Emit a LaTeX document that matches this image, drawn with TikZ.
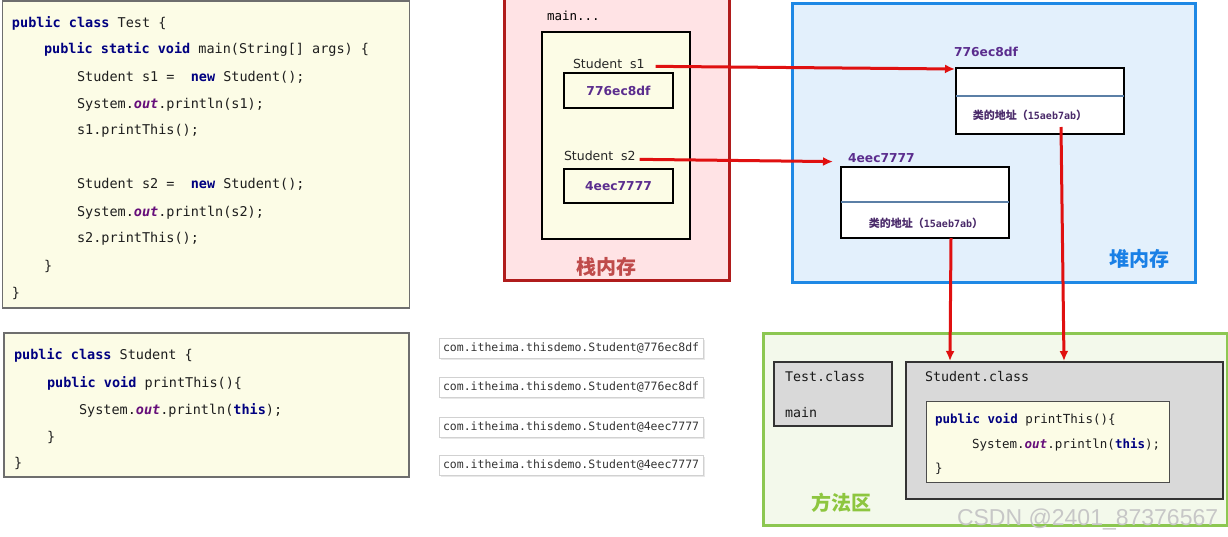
\documentclass[tikz,border=0pt]{standalone}
\usepackage{fontspec}
\setmainfont{DejaVu Sans}
\newfontfamily\codefont{DejaVu Sans Mono}
\newfontfamily\cjkfont{Noto Sans CJK SC}
\newfontfamily\wmfont{Liberation Sans}
\usetikzlibrary{arrows.meta,shadows}
\definecolor{codebg}{HTML}{FCFCE6}
\definecolor{codeborder}{HTML}{6E6E6E}
\definecolor{kwc}{HTML}{000080}
\definecolor{outc}{HTML}{660E7A}
\definecolor{txtc}{HTML}{1E1E1E}
\definecolor{hexc}{HTML}{5B2D8E}
\definecolor{stackbg}{HTML}{FFE3E5}
\definecolor{stackbd}{HTML}{B01C1C}
\definecolor{stacktxt}{HTML}{BF4B4B}
\definecolor{heapbg}{HTML}{E3F0FC}
\definecolor{heapbd}{HTML}{1E88E5}
\definecolor{heaptxt}{HTML}{1A80E6}
\definecolor{divc}{HTML}{5B7FA6}
\definecolor{methbg}{HTML}{F3F9EB}
\definecolor{methbd}{HTML}{8CC751}
\definecolor{methtxt}{HTML}{8DC63F}
\definecolor{classbg}{HTML}{D9D9D9}
\definecolor{arrc}{HTML}{E01010}
\definecolor{addrc}{HTML}{4A2A6A}
\newcommand{\kw}[1]{{\bfseries\color{kwc}#1}}
\newcommand{\outw}{{\bfseries\itshape\color{outc}out}}
\tikzset{
  every node/.style={inner sep=0pt, outer sep=0pt},
  codebox/.style={draw=codeborder, line width=1.2pt, fill=codebg, anchor=north west},
  code/.style={anchor=base west, font=\codefont\fontsize{13.5}{16}\selectfont, text=txtc},
  smallcode/.style={anchor=base west, font=\codefont\fontsize{12.5}{15}\selectfont, text=txtc},
  console/.style={draw=black!18, fill=white, line width=0.6pt, inner xsep=4pt, minimum height=20pt,
    anchor=west, font=\codefont\fontsize{11.5}{13}\selectfont, text=black!80,
    drop shadow={opacity=0.18, shadow xshift=1.5pt, shadow yshift=-1.5pt}},
  plainbox/.style={draw=black, line width=1.3pt, anchor=north west},
  lbl/.style={anchor=base west, font=\fontsize{12.5}{15}\selectfont, text=black!85},
  hex/.style={font=\bfseries\fontsize{12.3}{15}\selectfont, text=hexc},
  addr/.style={font=\cjkfont\bfseries\fontsize{11}{13}\selectfont, text=addrc},
  area/.style={font=\cjkfont\bfseries\fontsize{20}{24}\selectfont},
  ref/.style={draw=arrc, line width=3pt, -{Latex[length=10pt,width=9pt]}},
  clsbox/.style={draw=black!80, line width=1.3pt, fill=classbg, anchor=north west},
  clstxt/.style={anchor=base west, font=\codefont\fontsize{13.3}{16}\selectfont, text=black!90}
}
\begin{document}
\begin{tikzpicture}[x=1pt,y=-1pt]
\useasboundingbox[fill=white] (0,0) rectangle (1228,536);
% ---------- code box 1
\node[codebox, minimum width=407pt, minimum height=307pt] (code1) at (2.5,1) {};
\node[code] (c1) at (12,27) {\kw{public} \kw{class} Test \{};
\node[code] (c2) at (44,53) {\kw{public} \kw{static} \kw{void} main(String[] args) \{};
\node[code] (c3) at (77,81) {Student s1 =\ \ \kw{new} Student();};
\node[code] (c4) at (77,108) {System.\outw.println(s1);};
\node[code] (c5) at (77,134) {s1.printThis();};
\node[code] (c6) at (77,188) {Student s2 =\ \ \kw{new} Student();};
\node[code] (c7) at (77,216) {System.\outw.println(s2);};
\node[code] (c8) at (77,242) {s2.printThis();};
\node[code] (c9) at (44,270) {\}};
\node[code] (c10) at (12,297) {\}};
% ---------- code box 2
\node[codebox, minimum width=405pt, minimum height=144pt] (code2) at (4,333) {};
\node[code] (d1) at (14,359) {\kw{public} \kw{class} Student \{};
\node[code] (d2) at (47,387) {\kw{public} \kw{void} printThis()\{};
\node[code] (d3) at (79,414) {System.\outw.println(\kw{this});};
\node[code] (d4) at (47,441) {\}};
\node[code] (d5) at (14,467) {\}};
% ---------- console outputs
\node[console] (o1) at (439,348) {com.itheima.thisdemo.Student@776ec8df};
\node[console] (o2) at (439,387) {com.itheima.thisdemo.Student@776ec8df};
\node[console] (o3) at (439,427) {com.itheima.thisdemo.Student@4eec7777};
\node[console] (o4) at (439,465) {com.itheima.thisdemo.Student@4eec7777};
% ---------- stack
\node[draw=stackbd, line width=3pt, fill=stackbg, anchor=north west, minimum width=225pt, minimum height=286pt] (stack) at (504,-6) {};
\node[anchor=base west, font=\codefont\fontsize{12.5}{14}\selectfont] (mainlbl) at (547,20) {main...};
\node[plainbox, fill=codebg, minimum width=148pt, minimum height=207pt] (frame) at (542,32) {};
\node[lbl] (s1lbl) at (573,68) {Student\hspace{8pt}s1};
\node[plainbox, minimum width=109pt, minimum height=35pt] (v1) at (564,73) {};
\node[hex] (v1t) at (v1.center) {776ec8df};
\node[lbl] (s2lbl) at (564,160) {Student\hspace{8pt}s2};
\node[plainbox, minimum width=109pt, minimum height=34pt] (v2) at (564,169) {};
\node[hex] (v2t) at (v2.center) {4eec7777};
\node[area, text=stacktxt] (stackname) at (606,267) {栈内存};
% ---------- heap
\node[draw=heapbd, line width=3pt, fill=heapbg, anchor=north west, minimum width=403pt, minimum height=279pt] (heap) at (792,3) {};
\node[hex, anchor=base west] (h1lbl) at (954,56) {776ec8df};
\node[plainbox, fill=white, minimum width=168pt, minimum height=66pt] (obj1) at (956,68) {};
\draw[divc, line width=1.6pt] ([yshift=-28pt]obj1.north west) -- ([yshift=-28pt]obj1.north east);
\node[addr] (addr1) at (1030,115) {类的地址（{\codefont\bfseries\fontsize{10}{11}\selectfont 15aeb7ab}）};
\node[hex, anchor=base west] (h2lbl) at (848,162) {4eec7777};
\node[plainbox, fill=white, minimum width=168pt, minimum height=71pt] (obj2) at (841,167) {};
\draw[divc, line width=1.6pt] ([yshift=-35pt]obj2.north west) -- ([yshift=-35pt]obj2.north east);
\node[addr] (addr2) at (926,223) {类的地址（{\codefont\bfseries\fontsize{10}{11}\selectfont 15aeb7ab}）};
\node[area, text=heaptxt] (heapname) at (1139,259) {堆内存};
% ---------- method area
\node[draw=methbd, line width=3pt, fill=methbg, anchor=north west, minimum width=464pt, minimum height=192pt] (meth) at (763,333) {};
\node[clsbox, minimum width=118pt, minimum height=64pt] (testcls) at (774,362) {};
\node[clstxt] (testname) at (785,381) {Test.class};
\node[clstxt] (testmain) at (785,417) {main};
\node[clsbox, minimum width=317pt, minimum height=137pt] (stucls) at (906,362) {};
\node[clstxt] (stuname) at (925,381) {Student.class};
\node[draw=black!70, line width=1pt, fill=codebg, anchor=north west, minimum width=243pt, minimum height=81pt] (meth1) at (926,401) {};
\node[smallcode] (m1) at (935,423) {\kw{public} \kw{void} printThis()\{};
\node[smallcode] (m2) at (972,448) {System.\outw.println(\kw{this});};
\node[smallcode] (m3) at (935,472) {\}};
\node[area, text=methtxt] (methname) at (841,503) {方法区};
% ---------- watermark
\node[anchor=base west, font=\wmfont\fontsize{23}{26}\selectfont, text=black!22] (wm) at (957,525) {CSDN @2401\_87376567};
% ---------- connectors
\coordinate (up1) at (1061,127);
\coordinate (dn1) at (1064,361);
\coordinate (up2) at (951,238);
\coordinate (dn2) at (950,361);
\draw[ref] ([xshift=11pt,yshift=-3pt]s1lbl.east) -- ([xshift=-1pt,yshift=-1pt]obj1.north west);
\draw[ref] ([xshift=4pt,yshift=-4pt]s2lbl.east) -- ([xshift=-15pt,yshift=-4pt]h2lbl.west);
\draw[ref] (up1) -- (dn1);
\draw[ref] (up2) -- (dn2);
\end{tikzpicture}
\end{document}
